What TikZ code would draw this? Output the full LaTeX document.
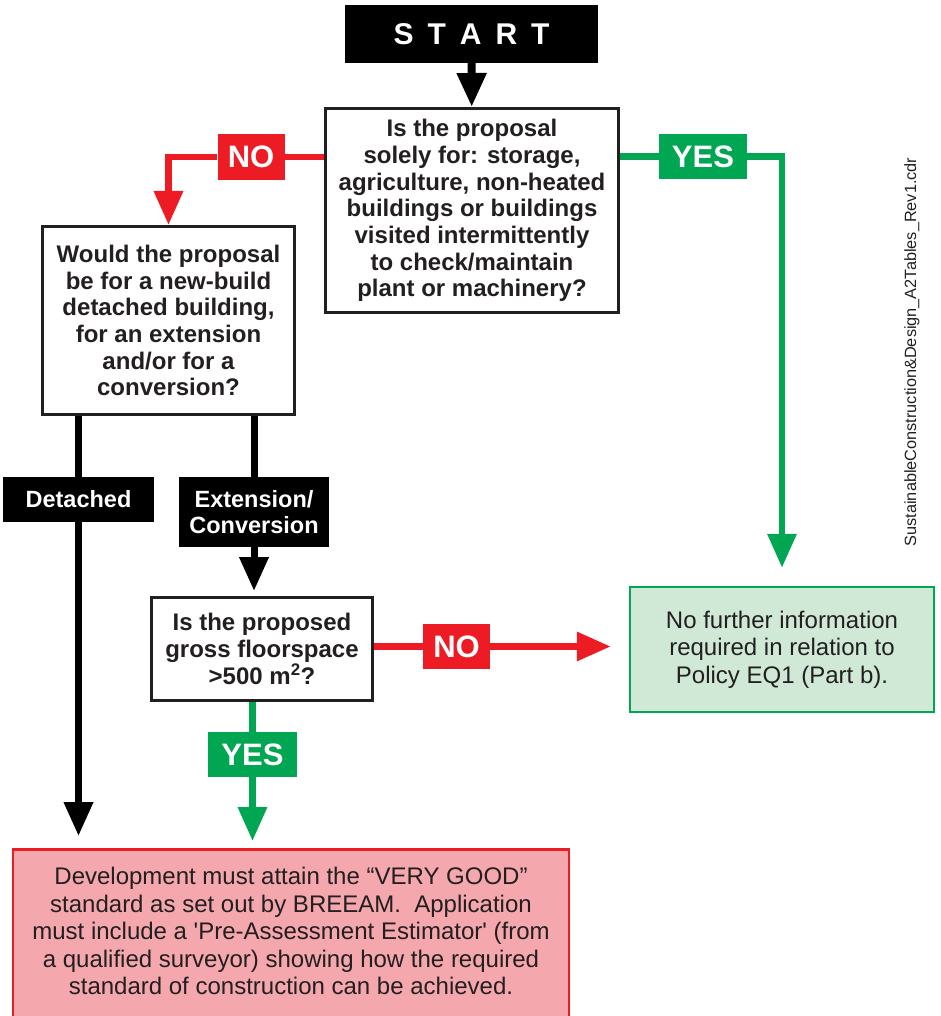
\documentclass[tikz,border=0pt]{standalone}
\usepackage{fontspec}
\setmainfont{Liberation Sans}
\usetikzlibrary{arrows.meta}

\definecolor{noRed}{HTML}{ED1C24}
\definecolor{yesGreen}{HTML}{00A651}
\definecolor{infoFill}{HTML}{D0E9D6}
\definecolor{resultFill}{HTML}{F4A7AC}
\definecolor{inkGray}{HTML}{231F20}

\begin{document}
\begin{tikzpicture}[x=1pt,y=-1pt]
\tikzset{question/.style = {shape=rectangle,draw=inkGray,line width=3pt,fill=white,text=inkGray,align=center,inner sep=0pt,font=\bfseries\fontsize{24}{26.7}\selectfont}}
\tikzset{outcome/.style = {shape=rectangle,line width=2.5pt,text=inkGray,align=center,inner sep=0pt,font=\fontsize{24}{27.5}\selectfont}}
\tikzset{tag/.style = {shape=rectangle,inner sep=0pt,text=white,align=center,font=\bfseries\fontsize{31}{33}\selectfont}}
\tikzset{branch/.style = {tag,fill=black,font=\bfseries\fontsize{23.5}{26.7}\selectfont}}
\tikzset{link/.style = {line width=6.5pt,> = {Triangle[width=28pt,length=34pt]}}}

\clip (0,0) rectangle (940,1016);

%boxes
\node[shape=rectangle,fill=black,text=white,minimum width=253pt,minimum height=58pt,font=\bfseries\fontsize{30}{32}\selectfont] (start) at (471.5,34) {S\kern14pt T\kern14pt A\kern14pt R\kern14pt T};
\node[question,minimum width=293pt,minimum height=204pt] (q1) at (472,210.5) {Is the proposal\\solely for: storage,\\agriculture, non-heated\\buildings or buildings\\visited intermittently\\to check/maintain\\plant or machinery?};
\node[question,minimum width=252pt,minimum height=188pt] (q2) at (168.5,320.5) {Would the proposal\\be for a new-build\\detached building,\\for an extension\\and/or for a\\conversion?};
\node[question,minimum width=221pt,minimum height=103pt] (q3) at (262,649) {Is the proposed\\gross floorspace\\>500 m\textsuperscript{2}?};
\node[outcome,draw=yesGreen,fill=infoFill,minimum width=304pt,minimum height=125pt] (info) at (782,649.5) {No further information\\required in relation to\\Policy EQ1 (Part b).};
\node[outcome,draw=noRed,fill=resultFill,minimum width=556pt,anchor=north,inner ysep=18pt,text depth=60pt] (result) at (291,848) {Development must attain the “VERY GOOD”\\standard as set out by BREEAM.\ \ Application\\must include a \textquotesingle Pre-Assessment Estimator\textquotesingle\ (from\\a qualified surveyor) showing how the required\\standard of construction can be achieved.};

% ---- labels
\node[tag,fill=noRed,minimum width=67pt,minimum height=46pt] (no1) at (251,157) {NO};
\node[tag,fill=yesGreen,minimum width=88pt,minimum height=45pt] (yes1) at (703,156.5) {YES};
\node[branch,minimum width=151pt,minimum height=45pt] (det) at (78.5,499.5) {Detached};
\node[branch,minimum width=150pt,minimum height=70pt] (ext) at (254,512) {Extension/\\Conversion};
\node[tag,fill=noRed,minimum width=67pt,minimum height=45pt] (no2) at (456.5,646.5) {NO};
\node[tag,fill=yesGreen,minimum width=89pt,minimum height=45pt] (yes2) at (252.5,754.5) {YES};

\node[rotate=90,text=inkGray,font=\fontsize{16.3}{18}\selectfont] (fname) at (912,352) {SustainableConstruction\&Design\_A2Tables\_Rev1.cdr};

%edges
\draw[link,black,line width=8pt,->] (start) -- (q1);

\draw[link,noRed] (q1.west |- no1) -- (no1);
\draw[link,noRed,->] (no1) -| (q2.north);

\draw[link,yesGreen] (q1.east |- yes1) -- (yes1);
\draw[link,yesGreen,->,shorten >=18pt] (yes1) -| (info.north);

\draw[link,black,line width=7pt] (det |- q2.south) -- (det);
\draw[link,black,line width=7pt,->,shorten >=12pt] (det) -- (det |- result.north);

\draw[link,black,line width=7pt] (ext |- q2.south) -- (ext);
\draw[link,black,line width=7pt,->,shorten >=5pt] (ext) -- (ext |- q3.north);

\draw[link,noRed] (q3.east |- no2) -- (no2);
\draw[link,noRed,->,shorten >=18pt] (no2) -- (no2 -| info.west);

\draw[link,yesGreen] (yes2 |- q3.south) -- (yes2);
\draw[link,yesGreen,->,shorten >=7pt] (yes2) -- (yes2 |- result.north);
\end{tikzpicture}
\end{document}
